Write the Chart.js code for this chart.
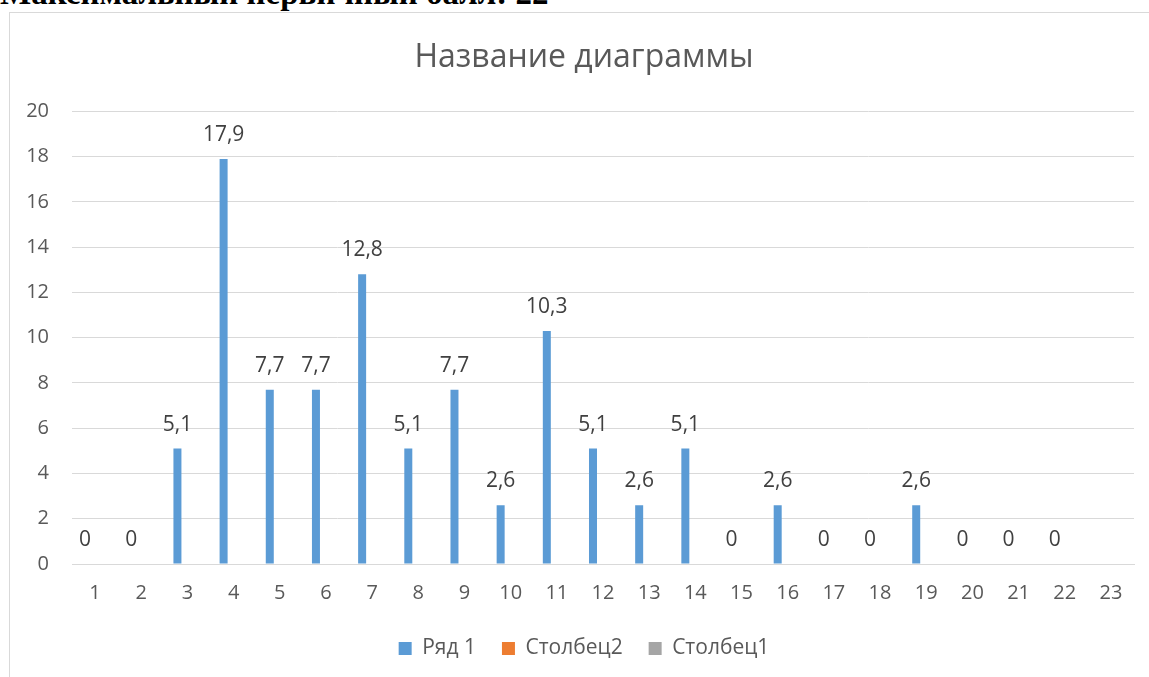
<!DOCTYPE html>
<html lang="ru">
<head>
<meta charset="UTF-8">
<title>Название диаграммы</title>
<script src="https://cdn.jsdelivr.net/npm/chart.js"></script>
<style>
  body { margin: 0; background: #fff; overflow: hidden; }
  .heading {
    position: absolute; left: 0; top: -23px;
    font: bold 33px/33px "Liberation Serif", "Times New Roman", serif;
    color: #000; white-space: nowrap;
  }
  .frame {
    position: absolute; left: 9px; top: 12px;
    width: 1150px; height: 670px;
    border: 1px solid #d9d9d9; box-sizing: border-box;
  }
  #chart { position: absolute; left: 10px; top: 13px; }
</style>
</head>
<body>
<div class="heading">Максимальный первичный балл: 22</div>
<div class="frame"></div>
<canvas id="chart" width="1139" height="664"></canvas>
<script>
  const categories = ['1','2','3','4','5','6','7','8','9','10','11','12','13','14','15','16','17','18','19','20','21','22','23'];
  const row1 = [0, 0, 5.1, 17.9, 7.7, 7.7, 12.8, 5.1, 7.7, 2.6, 10.3, 5.1, 2.6, 5.1, 0, 2.6, 0, 0, 2.6, 0, 0, 0, null];
  const col2 = [];
  const col1 = [];

  const FONT = '"Open Sans", "Noto Sans", sans-serif';

  // value labels above the first series bars
  const barLabels = {
    id: 'barLabels',
    afterDatasetsDraw(chart) {
      const ctx = chart.ctx;
      const meta = chart.getDatasetMeta(0);
      ctx.save();
      ctx.font = '21px ' + FONT;
      ctx.fillStyle = '#404040';
      ctx.textAlign = 'center';
      ctx.textBaseline = 'middle';
      meta.data.forEach((bar, i) => {
        const v = row1[i];
        if (v === null || v === undefined) return;
        ctx.fillText(String(v).replace('.', ','), bar.x, bar.y - 24);
      });
      ctx.restore();
    }
  };

  // title and legend sit a little right of the canvas centre
  const shiftBoxes = {
    id: 'shiftBoxes',
    afterLayout(chart) {
      [chart.titleBlock, chart.legend].forEach(box => {
        if (!box) return;
        box.left += 12;
        box.right += 12;
      });
    }
  };

  new Chart(document.getElementById('chart'), {
    type: 'bar',
    data: {
      labels: categories,
      datasets: [
        { label: 'Ряд 1', data: row1, backgroundColor: '#5b9bd5' },
        { label: 'Столбец2', data: col2, backgroundColor: '#ed7d31' },
        { label: 'Столбец1', data: col1, backgroundColor: '#a5a5a5' }
      ]
    },
    options: {
      responsive: false,
      animation: false,
      datasets: { bar: { categoryPercentage: 0.65, barPercentage: 0.8 } },
      layout: { padding: { left: 0, right: 15, top: 0, bottom: 8 } },
      plugins: {
        title: {
          display: true,
          text: 'Название диаграммы',
          color: '#595959',
          font: { family: FONT, size: 32, weight: 'normal' },
          padding: { top: 26, bottom: 34 }
        },
        legend: {
          position: 'bottom',
          labels: {
            color: '#595959',
            font: { family: FONT, size: 21 },
            boxWidth: 13,
            boxHeight: 13,
            padding: 26
          }
        },
        tooltip: { enabled: false }
      },
      scales: {
        x: {
          grid: { display: false, drawTicks: false },
          border: { color: '#d9d9d9', width: 1 },
          ticks: { color: '#595959', font: { family: FONT, size: 20 }, padding: 17, maxRotation: 0 },
          afterFit(scale) { scale.height = 48; }
        },
        y: {
          min: 0, max: 20,
          grid: { color: '#d9d9d9', drawTicks: false },
          border: { display: false },
          ticks: { stepSize: 2, color: '#595959', font: { family: FONT, size: 20 }, padding: 23 },
          afterFit(scale) { scale.width = 62; }
        }
      }
    },
    plugins: [barLabels, shiftBoxes]
  });
</script>
</body>
</html>
